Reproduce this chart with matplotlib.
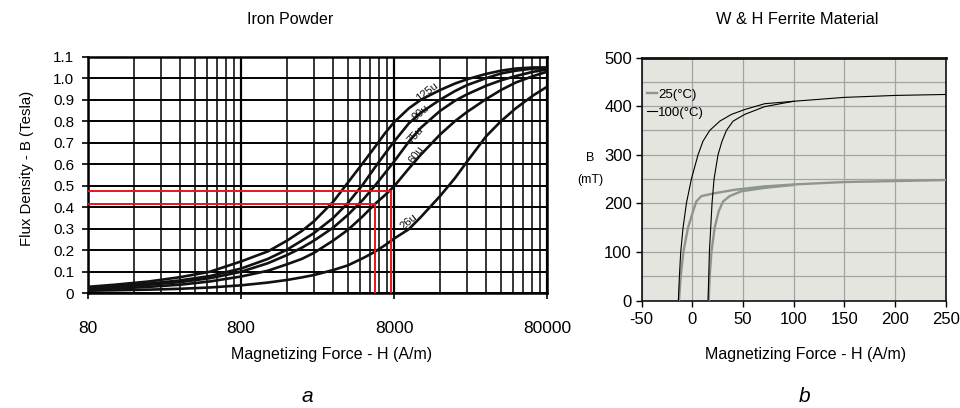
import matplotlib

matplotlib.use("Agg")
import matplotlib.pyplot as plt
from matplotlib.ticker import FixedLocator, MultipleLocator, NullFormatter

plt.rcParams["font.family"] = ["Liberation Sans", "DejaVu Sans"]
plt.rcParams["axes.unicode_minus"] = False

# --- Iron powder B-H curves ---
h_iron = [80, 120, 200, 320, 500, 800, 1200, 1600, 2000, 2400, 3200, 4000, 5000,
          6000, 7000, 8000, 10000, 12000, 16000, 20000, 24000, 32000, 40000, 50000,
          65000, 80000]
b_125u = [0.030, 0.040, 0.055, 0.075, 0.100, 0.148, 0.195, 0.245, 0.290, 0.335, 0.425,
          0.515, 0.605, 0.680, 0.745, 0.795, 0.860, 0.900, 0.945, 0.975, 0.995, 1.020,
          1.035, 1.045, 1.050, 1.050]
b_90u = [0.025, 0.033, 0.045, 0.060, 0.080, 0.115, 0.160, 0.203, 0.245, 0.280, 0.350,
         0.420, 0.505, 0.585, 0.650, 0.705, 0.790, 0.840, 0.900, 0.940, 0.968, 1.000,
         1.022, 1.035, 1.045, 1.045]
b_75u = [0.022, 0.030, 0.040, 0.052, 0.070, 0.100, 0.140, 0.178, 0.212, 0.245, 0.305,
         0.365, 0.434, 0.500, 0.560, 0.612, 0.705, 0.770, 0.848, 0.895, 0.925, 0.965,
         0.990, 1.010, 1.030, 1.040]
b_60u = [0.018, 0.022, 0.030, 0.040, 0.055, 0.078, 0.105, 0.135, 0.160, 0.188, 0.245,
         0.295, 0.358, 0.415, 0.457, 0.497, 0.580, 0.645, 0.738, 0.800, 0.843, 0.903,
         0.945, 0.980, 1.010, 1.030]
b_26u = [0.012, 0.014, 0.017, 0.021, 0.027, 0.037, 0.050, 0.062, 0.074, 0.085, 0.108,
         0.130, 0.163, 0.193, 0.224, 0.254, 0.298, 0.355, 0.452, 0.535, 0.612, 0.730,
         0.800, 0.860, 0.920, 0.960]
iron_series = {"125u": b_125u, "90u": b_90u, "75u": b_75u, "60u": b_60u, "26u": b_26u}

# curve label anchors (H, B, angle)
label_h = [13100, 12000, 11100, 11100, 10000]
label_b = [0.938, 0.838, 0.736, 0.643, 0.333]
label_rot = [38, 40, 48, 55, 40]

# red guide lines
red_h = [7600, 6000]
red_b = [0.477, 0.415]

iron_xticks = [80, 800, 8000, 80000]
iron_yticks = [0, 0.1, 0.2, 0.3, 0.4, 0.5, 0.6, 0.7, 0.8, 0.9, 1.0, 1.1]
iron_ylabels = ["0", "0.1", "0.2", "0.3", "0.4", "0.5", "0.6", "0.7", "0.8", "0.9", "1.0", "1.1"]

# --- Ferrite B-H curves ---
h_100_a = [-13.8, -12.8, -11.5, -9.2, -5.9, -1.0, 5.6, 10.5, 17.1, 27.0, 38.5, 51.6, 71.4,
           100, 150, 200, 250]
b_100_a = [0, 50, 100, 150, 200, 250, 300, 328, 350, 369, 383, 393, 405, 410, 418, 422, 424]
h_100_b = [15.5, 16.8, 19.4, 21.4, 25.3, 29.3, 33.6, 40.1, 51.6, 71.4, 100]
b_100_b = [0, 100, 200, 250, 300, 328, 350, 369, 383, 399, 410]
h_25_a = [-13.2, -11.5, -8.9, -4.3, 0.7, 3.9, 8.9, 22.0, 41.8, 71.4, 100, 150, 200, 250]
b_25_a = [0, 50, 100, 150, 184, 204, 215, 221, 228, 235, 239, 244, 246, 248]
h_25_b = [16.1, 17.1, 18.8, 22.0, 26.0, 30.3, 36.8, 48.4, 71.4, 100]
b_25_b = [0, 50, 100, 150, 184, 204, 215, 225, 232, 238]

GRAY_CURVE = "#8c968c"

fig = plt.figure(figsize=(9.6, 4.08), dpi=100)

# ---------------- left panel ----------------
ax1 = fig.add_axes([88 / 960, 114.7 / 408, 459 / 960, 236.6 / 408])
ax1.set_xscale("log")
ax1.set_xlim(80, 80000)
ax1.set_ylim(0, 1.1)

for dec in [80, 800, 8000]:
    for k in range(2, 10):
        ax1.axvline(dec * k, color="black", lw=1.1, zorder=1)
for x in iron_xticks:
    ax1.axvline(x, color="black", lw=1.6, zorder=1)
for y in iron_yticks:
    ax1.axhline(y, color="black", lw=1.4, zorder=1)

for name, b in iron_series.items():
    ax1.plot(h_iron, b, color="#111111", lw=1.9, zorder=3, solid_joinstyle="round")

for (name, lh, lb, rot) in zip(iron_series.keys(), label_h, label_b, label_rot):
    ax1.text(lh, lb, name, fontsize=8, rotation=rot, ha="center", va="center",
             color="#111111", zorder=4)

for hv, bv in zip(red_h, red_b):
    ax1.plot([80, hv, hv], [bv, bv, 0], color="#e8141c", lw=1.4, zorder=5,
             solid_joinstyle="miter")

ax1.xaxis.set_major_locator(FixedLocator(iron_xticks))
ax1.xaxis.set_minor_locator(FixedLocator([]))
ax1.set_xticklabels([str(v) for v in iron_xticks])
ax1.set_yticks(iron_yticks)
ax1.set_yticklabels(iron_ylabels)
ax1.tick_params(axis="x", length=4, width=1.2, pad=16, labelsize=12.5)
ax1.tick_params(axis="y", length=4, width=1.2, pad=6, labelsize=11)
for sp in ax1.spines.values():
    sp.set_linewidth(1.8)

fig.text(290 / 960, 1 - 20 / 408, "Iron Powder", ha="center", va="center", fontsize=11.5)
fig.text(332 / 960, 1 - 355 / 408, "Magnetizing Force - H (A/m)", ha="center", va="center",
         fontsize=11.5)
fig.text(27 / 960, 1 - 168 / 408, "Flux Density - B (Tesla)", ha="center", va="center",
         rotation=90, fontsize=10.8)
fig.text(307 / 960, 1 - 397 / 408, "a", ha="center", va="center", fontsize=15,
         style="italic")

# ---------------- right panel ----------------
ax2 = fig.add_axes([641.7 / 960, 107.3 / 408, 304 / 960, 243.2 / 408])
ax2.set_facecolor("#e5e5e0")
ax2.set_xlim(-50, 250)
ax2.set_ylim(0, 500)
ax2.xaxis.set_major_locator(MultipleLocator(50))
ax2.yaxis.set_major_locator(MultipleLocator(100))
ax2.yaxis.set_minor_locator(MultipleLocator(50))
ax2.yaxis.set_minor_formatter(NullFormatter())
ax2.grid(True, which="both", color="#a3a3a3", lw=0.9, zorder=0)
ax2.set_axisbelow(True)
ax2.tick_params(axis="y", which="minor", length=0)
ax2.tick_params(axis="both", which="major", length=4, width=1.0, labelsize=12, pad=3)
ax2.tick_params(axis="x", pad=4)

ax2.plot(h_25_a, b_25_a, color=GRAY_CURVE, lw=1.7, label="25(\u00b0C)", zorder=3)
ax2.plot(h_25_b, b_25_b, color=GRAY_CURVE, lw=1.7, zorder=3)
ax2.plot(h_100_a, b_100_a, color="black", lw=0.8, label="100(\u00b0C)", zorder=4)
ax2.plot(h_100_b, b_100_b, color="black", lw=0.8, zorder=4)

leg = ax2.legend(loc="upper left", bbox_to_anchor=(-0.01, 0.905), frameon=False,
                 fontsize=9.5, handlelength=0.8, handletextpad=0.1, labelspacing=0.45,
                 borderaxespad=0.2)

for sp in ax2.spines.values():
    sp.set_linewidth(1.2)
    sp.set_color("#111111")
ax2.spines["top"].set_linewidth(2.0)

fig.text(797 / 960, 1 - 20 / 408, "W & H Ferrite Material", ha="center", va="center",
         fontsize=11.8)
fig.text(806 / 960, 1 - 355 / 408, "Magnetizing Force - H (A/m)", ha="center",
         va="center", fontsize=11.5)
fig.text(590 / 960, 1 - 158 / 408, "B", ha="center", va="center", fontsize=9)
fig.text(590 / 960, 1 - 180 / 408, "(mT)", ha="center", va="center", fontsize=9)
fig.text(805 / 960, 1 - 397 / 408, "b", ha="center", va="center", fontsize=15,
         style="italic")

fig.savefig("out.png", dpi=100)
